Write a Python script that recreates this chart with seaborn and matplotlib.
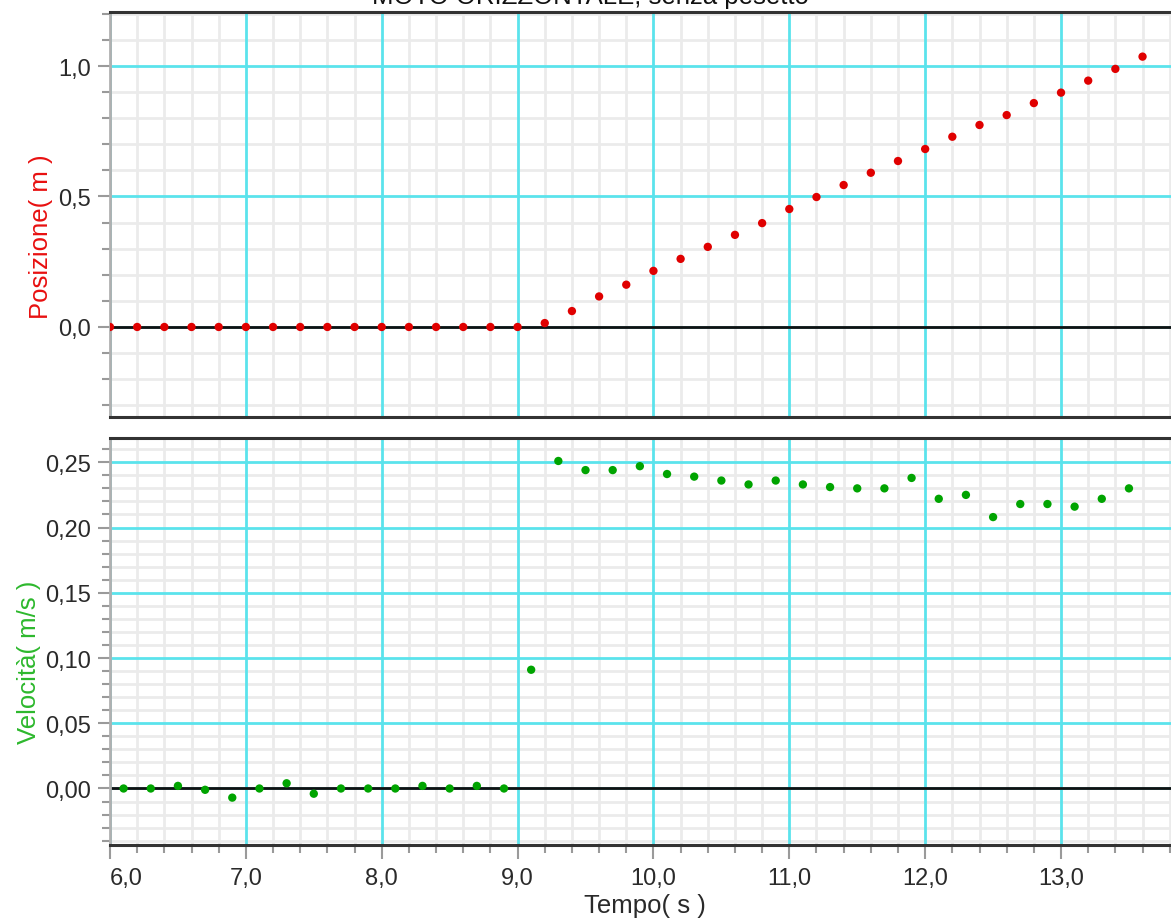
import numpy as np
import pandas as pd
import matplotlib
matplotlib.use("Agg")
import matplotlib.pyplot as plt
from matplotlib.ticker import FixedLocator, FuncFormatter
import seaborn as sns

# ---------------- data ----------------
t_pos = [6.0, 6.2, 6.4, 6.6, 6.8, 7.0, 7.2, 7.4, 7.6, 7.8, 8.0, 8.2, 8.4, 8.6, 8.8, 9.0,
         9.2, 9.4, 9.6, 9.8, 10.0, 10.2, 10.4, 10.6, 10.8, 11.0, 11.2, 11.4, 11.6, 11.8,
         12.0, 12.2, 12.4, 12.6, 12.8, 13.0, 13.2, 13.4, 13.6]
posizione = [0.0, 0.0, 0.0, 0.0, 0.0, 0.0, 0.0, 0.0, 0.0, 0.0, 0.0, 0.0, 0.0, 0.0, 0.0, 0.0,
             0.015, 0.061, 0.117, 0.162, 0.215, 0.261, 0.307, 0.353, 0.398, 0.452, 0.498,
             0.544, 0.591, 0.636, 0.682, 0.729, 0.774, 0.812, 0.858, 0.898, 0.944, 0.989, 1.036]

t_vel = [6.1, 6.3, 6.5, 6.7, 6.9, 7.1, 7.3, 7.5, 7.7, 7.9, 8.1, 8.3, 8.5, 8.7, 8.9,
         9.1, 9.3, 9.5, 9.7, 9.9, 10.1, 10.3, 10.5, 10.7, 10.9, 11.1, 11.3, 11.5, 11.7,
         11.9, 12.1, 12.3, 12.5, 12.7, 12.9, 13.1, 13.3, 13.5]
velocita = [0.000, 0.000, 0.002, -0.001, -0.007, 0.000, 0.004, -0.004, 0.000, 0.000, 0.000,
            0.002, 0.000, 0.002, 0.000, 0.091, 0.251, 0.244, 0.244, 0.247, 0.241, 0.239,
            0.236, 0.233, 0.236, 0.233, 0.231, 0.230, 0.230, 0.238, 0.222, 0.225, 0.208,
            0.218, 0.218, 0.216, 0.222, 0.230]

x_major = [6.0, 7.0, 8.0, 9.0, 10.0, 11.0, 12.0, 13.0]
pos_major = [0.0, 0.5, 1.0]
vel_major = [0.0, 0.05, 0.10, 0.15, 0.20, 0.25]

title_text = "MOTO ORIZZONTALE, senza pesetto"
xlabel_text = "Tempo( s )"
ylabel_pos = "Posizione( m )"
ylabel_vel = "Velocità( m/s )"

df_pos = pd.DataFrame({"t": t_pos, "y": posizione})
df_vel = pd.DataFrame({"t": t_vel, "y": velocita})

# ---------------- style ----------------
sns.set_style("white")
plt.rcParams["font.family"] = ["Liberation Sans", "DejaVu Sans"]

W, H = 1171, 920
fig = plt.figure(figsize=(W / 100, H / 100), dpi=100)

def px_axes(left, top, right, bottom):
    return fig.add_axes([left / W, 1 - bottom / H, (right - left) / W, (bottom - top) / H])

ax1 = px_axes(110, 13, 1171, 418)
ax2 = px_axes(110, 439, 1171, 846)

CYAN = "#5BE3EC"
MINOR = "#EBEBEB"
TICKC = "#9A9A9A"
RED = "#E00000"
GREEN = "#00A400"

xmin, xmax = 6.0, 6.0 + 1061 / 135.86

def comma_fmt(decimals):
    return FuncFormatter(lambda v, p: f"{v:.{decimals}f}".replace(".", ","))

def minor_positions(lo, hi, step, major_step):
    vals = np.round(np.arange(lo, hi + step / 2, step), 6)
    ratio = vals / major_step
    return [v for v, r in zip(vals, ratio) if abs(r - round(r)) > 1e-6]

def style_axes(ax, ymajor, yminor):
    ax.set_xlim(xmin, xmax)
    ax.xaxis.set_major_locator(FixedLocator(x_major))
    ax.xaxis.set_minor_locator(FixedLocator(minor_positions(6.0, 14.0, 0.2, 1.0)))
    ax.yaxis.set_major_locator(FixedLocator(ymajor))
    ax.yaxis.set_minor_locator(FixedLocator(yminor))
    ax.grid(which="minor", color=MINOR, lw=2)
    ax.grid(which="major", visible=False)
    ax.set_axisbelow(True)
    # major grid (cyan) above the minor grey grid
    for xv in x_major:
        ax.axvline(xv, color=CYAN, lw=2, zorder=0.8)
    for yv in ymajor:
        ax.axhline(yv, color=CYAN, lw=2, zorder=0.8)
    ax.axhline(0, color="#111111", lw=2, zorder=2)
    for s in ("top", "bottom"):
        ax.spines[s].set_color("#333333")
        ax.spines[s].set_linewidth(2.2)
    ax.spines["right"].set_visible(False)
    ax.spines["left"].set_color("#B0B0B0")
    ax.spines["left"].set_linewidth(2)
    ax.tick_params(axis="y", which="major", direction="out", length=9, width=1.5,
                   color=TICKC, labelsize=17, labelcolor="#2A2A2A", pad=5, left=True)
    ax.tick_params(axis="y", which="minor", direction="out", length=6, width=1.5,
                   color=TICKC, left=True)

# top: position
style_axes(ax1, pos_major, minor_positions(-0.3, 1.2, 0.1, 0.5))
ax1.set_ylim(-0.345, 1.207)
ax1.yaxis.set_major_formatter(comma_fmt(1))
ax1.tick_params(axis="x", which="both", bottom=False, labelbottom=False)
sns.scatterplot(data=df_pos, x="t", y="y", ax=ax1, color=RED, s=36,
                edgecolor="none", zorder=5, legend=False)
ax1.set_xlabel("")
ax1.set_ylabel("")

# bottom: velocity
style_axes(ax2, vel_major, minor_positions(-0.04, 0.26, 0.01, 0.05))
ax2.set_ylim(-0.0433, 0.2686)
ax2.yaxis.set_major_formatter(comma_fmt(2))
ax2.xaxis.set_major_formatter(comma_fmt(1))
ax2.tick_params(axis="x", which="major", direction="out", length=10, width=1.5,
                color=TICKC, labelsize=17, labelcolor="#2A2A2A", pad=6, bottom=True)
ax2.tick_params(axis="x", which="minor", direction="out", length=6, width=1.5,
                color=TICKC, bottom=True)
sns.scatterplot(data=df_vel, x="t", y="y", ax=ax2, color=GREEN, s=36,
                edgecolor="none", zorder=5, legend=False)
ax2.set_xlabel("")
ax2.set_ylabel("")

# labels
fig.text(41 / W, 1 - 237 / H, ylabel_pos, rotation=90, ha="center", va="center",
         color="#E81010", fontsize=18.5)
fig.text(29 / W, 1 - 662 / H, ylabel_vel, rotation=90, ha="center", va="center",
         color="#2DB82D", fontsize=18.5)
fig.text(645 / W, 1 - 906 / H, xlabel_text, ha="center", va="center",
         color="#2A2A2A", fontsize=18.5)
fig.text(590 / W, 1 - 4 / H, title_text, ha="center", va="baseline",
         color="#111111", fontsize=18.5)

fig.canvas.draw()
first = ax2.xaxis.get_major_ticks()[0]
first.label1.set_horizontalalignment("left")

fig.savefig("out.png", dpi=100, facecolor="white")
